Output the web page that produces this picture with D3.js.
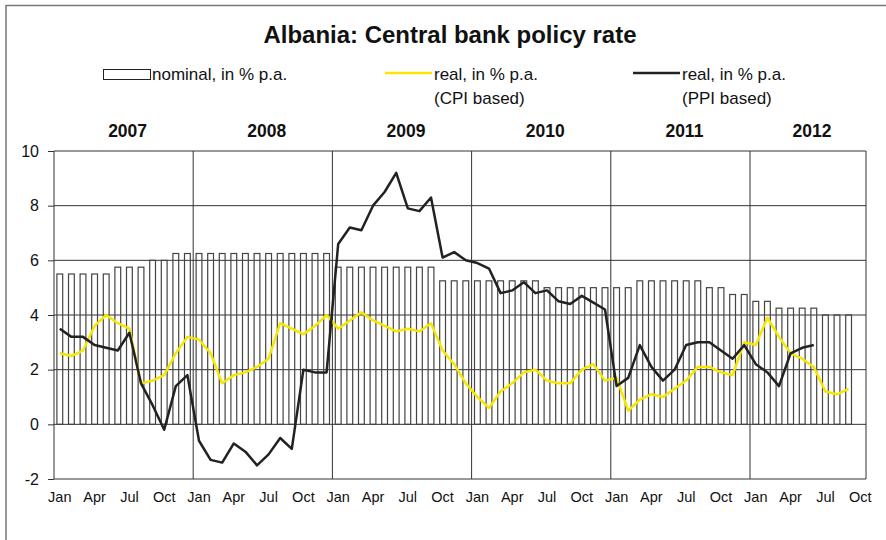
<!DOCTYPE html>
<html><head><meta charset="utf-8">
<script src="https://cdn.jsdelivr.net/npm/d3@7"></script>
<style>body{margin:0;background:#fff}svg{display:block;font-family:"Liberation Sans",Arial,sans-serif}</style>
</head><body><svg id="c" width="886" height="540"></svg>
<script>
// ---- data ----
const years = ["2007","2008","2009","2010","2011","2012"];
const monthNames = ["Jan","Feb","Mar","Apr","May","Jun","Jul","Aug","Sep","Oct","Nov","Dec"];
const nMonths = 70; // Jan 2007 .. Oct 2012
const months = d3.range(nMonths).map(i => years[Math.floor(i/12)] + "-" + monthNames[i%12]);
const tickLabels = ["Jan","Apr","Jul","Oct"];
const yTicks = [-2,0,2,4,6,8,10];

const nominal = [
 5.5,5.5,5.5,5.5,5.5,5.75,5.75,5.75,6.0,6.0,6.25,6.25,
 6.25,6.25,6.25,6.25,6.25,6.25,6.25,6.25,6.25,6.25,6.25,6.25,
 5.75,5.75,5.75,5.75,5.75,5.75,5.75,5.75,5.75,5.25,5.25,5.25,
 5.25,5.25,5.25,5.25,5.25,5.25,5.0,5.0,5.0,5.0,5.0,5.0,
 5.0,5.0,5.25,5.25,5.25,5.25,5.25,5.25,5.0,5.0,4.75,4.75,
 4.5,4.5,4.25,4.25,4.25,4.25,4.0,4.0,4.0,null
];
const realCPI = [
 2.6,2.5,2.7,3.6,4.0,3.7,3.5,1.5,1.6,1.8,2.6,3.2,
 3.1,2.6,1.5,1.8,1.9,2.1,2.4,3.7,3.5,3.3,3.6,4.0,
 3.5,3.8,4.1,3.8,3.6,3.4,3.5,3.4,3.7,2.7,2.2,1.5,
 1.0,0.6,1.2,1.5,1.9,2.0,1.6,1.5,1.5,2.0,2.2,1.6,
 1.7,0.5,0.9,1.1,1.0,1.3,1.6,2.1,2.1,1.9,1.8,3.0,
 2.9,3.9,3.2,2.6,2.4,2.1,1.2,1.1,1.3,null
];
const realPPI = [
 3.5,3.2,3.2,2.9,2.8,2.7,3.35,1.5,0.7,-0.2,1.4,1.8,
 -0.6,-1.3,-1.4,-0.7,-1.0,-1.5,-1.1,-0.5,-0.9,2.0,1.9,1.9,
 6.6,7.2,7.1,8.0,8.5,9.2,7.9,7.8,8.3,6.1,6.3,6.0,
 5.9,5.7,4.8,4.9,5.2,4.8,4.9,4.5,4.4,4.7,4.45,4.2,
 1.4,1.7,2.9,2.1,1.6,2.0,2.9,3.0,3.0,2.7,2.4,2.9,
 2.2,1.9,1.4,2.6,2.8,2.9,null,null,null,null
];

// ---- chart ----
const svg = d3.select("#c");
const x = d3.scaleBand().domain(months).range([54, 866]).padding(0);
const y = d3.scaleLinear().domain([-2, 10]).range([479, 151]);
const bw = x.bandwidth();

// outer frame (top + left)
svg.append("path").attr("d","M6,600V5.5H886").attr("fill","none").attr("stroke","#777").attr("stroke-width",1.5);

// title
svg.append("text").attr("x",450).attr("y",43).attr("text-anchor","middle")
  .attr("font-size",24).attr("font-weight","bold").attr("fill","#111")
  .attr("textLength",373).attr("lengthAdjust","spacingAndGlyphs")
  .text("Albania: Central bank policy rate");

// legend
const lg = svg.append("g").attr("font-size",17).attr("fill","#111");
lg.append("rect").attr("x",103.5).attr("y",69.5).attr("width",47).attr("height",10).attr("fill","#fff").attr("stroke","#222").attr("stroke-width",1);
lg.append("text").attr("x",152).attr("y",80).text("nominal, in % p.a.");
lg.append("line").attr("x1",385).attr("x2",432).attr("y1",73).attr("y2",73).attr("stroke","#f7e600").attr("stroke-width",2.5);
lg.append("text").attr("x",434).attr("y",80).text("real, in % p.a.");
lg.append("text").attr("x",434).attr("y",104).text("(CPI based)");
lg.append("line").attr("x1",633).attr("x2",680).attr("y1",73).attr("y2",73).attr("stroke","#222").attr("stroke-width",2.5);
lg.append("text").attr("x",682).attr("y",80).text("real, in % p.a.");
lg.append("text").attr("x",682).attr("y",104).text("(PPI based)");

// year labels
years.forEach((yr, k) => {
  const first = x(months[k*12]);
  const lastIdx = Math.min(k*12+11, nMonths-1);
  const last = x(months[lastIdx]) + bw;
  svg.append("text").attr("x",(first+last)/2+4).attr("y",137).attr("text-anchor","middle")
    .attr("font-size",17.5).attr("font-weight","bold").attr("fill","#111").text(yr);
});

// horizontal grid + y axis
const yAxis = d3.axisLeft(y).tickValues(yTicks).tickSize(6).tickPadding(9).tickFormat(d => String(d));
const ga = svg.append("g").attr("transform","translate(54,0)").call(yAxis);
ga.select(".domain").remove();
ga.selectAll("line").attr("stroke","#333");
ga.selectAll("text").attr("font-size",16).attr("fill","#111").attr("font-family","Liberation Sans, Arial, sans-serif");
svg.append("g").selectAll("line").data(yTicks).join("line")
  .attr("x1",54).attr("x2",866).attr("y1",d=>y(d)).attr("y2",d=>y(d))
  .attr("stroke","#333").attr("stroke-width",1);

// vertical year separators and plot borders
const vlines = years.map((yr,k)=>x(months[k*12])).concat([866]);
svg.append("g").selectAll("line").data(vlines).join("line")
  .attr("x1",d=>d).attr("x2",d=>d).attr("y1",y(10)).attr("y2",y(-2))
  .attr("stroke","#333").attr("stroke-width",1);

// bars
const barW = bw*0.5;
svg.append("g").selectAll("rect").data(months.map((m,i)=>({m,v:nominal[i]})).filter(d=>d.v!=null)).join("rect")
  .attr("x",d=>x(d.m)+(bw-barW)/2).attr("width",barW)
  .attr("y",d=>y(d.v)).attr("height",d=>y(0)-y(d.v))
  .attr("fill","none").attr("stroke","#444").attr("stroke-width",1.2);

// lines
const line = d3.line().defined(d=>d.v!=null).x(d=>x(d.m)+bw/2).y(d=>y(d.v));
svg.append("path").datum(months.map((m,i)=>({m,v:realCPI[i]})))
  .attr("d",line).attr("fill","none").attr("stroke","#f7e600").attr("stroke-width",2.5).attr("stroke-linejoin","round");
svg.append("path").datum(months.map((m,i)=>({m,v:realPPI[i]})))
  .attr("d",line).attr("fill","none").attr("stroke","#222").attr("stroke-width",2.5).attr("stroke-linejoin","round");

// x axis month labels
const xAxis = d3.axisBottom(x).tickValues(months.filter((m,i)=>i%3===0)).tickSize(0).tickPadding(0)
  .tickFormat(m => m.split("-")[1]);
const gx = svg.append("g").attr("transform","translate(0,492)").call(xAxis);
gx.select(".domain").remove();
gx.selectAll("text").attr("font-size",14.5).attr("fill","#111").attr("dy","0.71em").attr("font-family","Liberation Sans, Arial, sans-serif");
</script></body></html>
